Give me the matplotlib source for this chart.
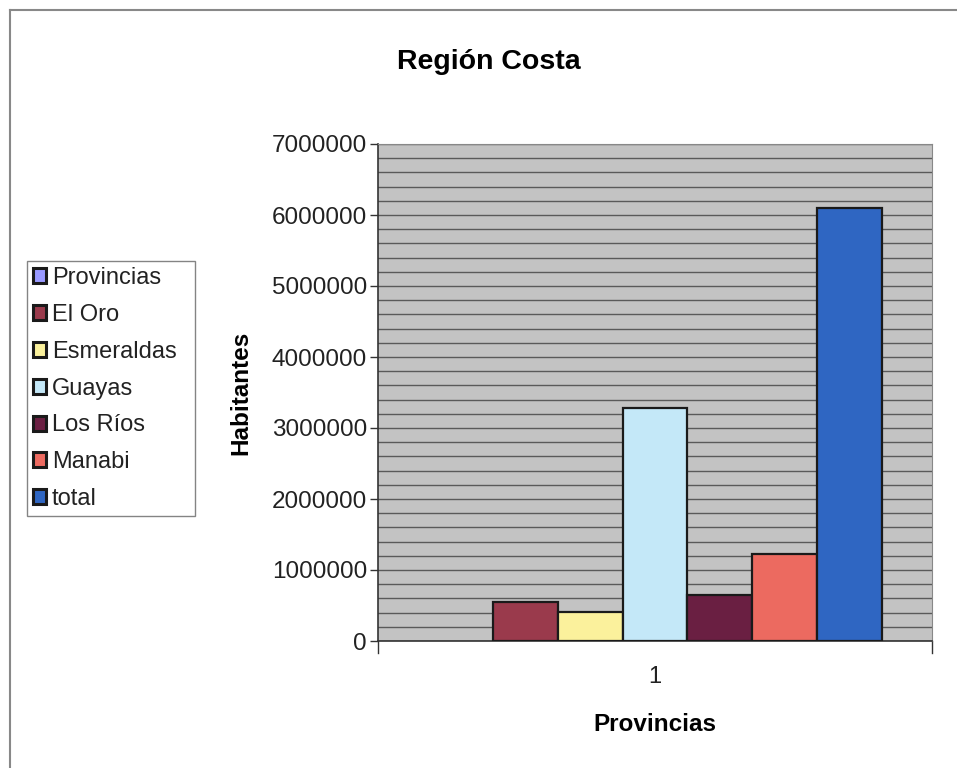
import matplotlib.pyplot as plt
from matplotlib.patches import Patch
from matplotlib.lines import Line2D

plt.rcParams['font.family'] = ['Liberation Sans', 'DejaVu Sans']

# Population by province, Coastal Region
series = ['Provincias', 'El Oro', 'Esmeraldas', 'Guayas', 'Los Ríos', 'Manabi', 'total']
values = [0, 545000, 410000, 3280000, 650000, 1230000, 6100000]
colors = ['#9999ff', '#9a3a4c', '#fbf19c', '#c4e8f8', '#6a1f42', '#ec6a60', '#2f66c2']
category = [1]
yticks = list(range(0, 7000001, 1000000))

fig = plt.figure(figsize=(9.57, 7.68), dpi=100)
fig.patch.set_facecolor('white')
ax = fig.add_axes([378 / 957, 1 - 641 / 768, (932 - 378) / 957, (641 - 144) / 768])
ax.set_facecolor('#c3c3c3')

group = 0.82
w = group / len(series)
for i, (name, v, c) in enumerate(zip(series, values, colors)):
    x = category[0] + (i - (len(series) - 1) / 2) * w
    ax.bar(x, v, width=w, color=c, edgecolor='#1a1a1a',
           linewidth=1.6 if v > 0 else 0, zorder=3)

ax.set_xlim(0.5, 1.5)
ax.set_ylim(0, 7000000)
ax.set_yticks(yticks)
ax.set_yticklabels([str(t) for t in yticks], fontsize=17.5, color='#222222')
ax.set_yticks(range(0, 7000001, 200000), minor=True)
ax.grid(True, axis='y', which='both', color='#5a5a5a', linewidth=1.0, zorder=1)
ax.set_axisbelow(True)
ax.set_xticks(category)
ax.set_xticklabels(['1'], fontsize=17, color='#222222')
ax.tick_params(axis='x', length=0, pad=18)
ax.tick_params(axis='y', which='major', length=6, width=1, color='#333333', pad=2)
ax.tick_params(axis='y', which='minor', length=0)
for s in ['left', 'bottom']:
    ax.spines[s].set_color('#333333')
    ax.spines[s].set_linewidth(1.2)
for s in ['right', 'top']:
    ax.spines[s].set_color('#888888')
    ax.spines[s].set_linewidth(0.8)

# category boundary ticks on the x axis
for xb in (0.5, 1.5):
    ax.plot([xb, xb], [0, -0.025], transform=ax.get_xaxis_transform(), color='#333333',
            linewidth=1, clip_on=False)

ax.set_ylabel('Habitantes', fontsize=17.5, fontweight='bold', labelpad=14)
ax.set_xlabel('Provincias', fontsize=17.5, fontweight='bold', labelpad=18)
fig.text(489 / 957, 1 - 62 / 768, 'Región Costa', fontsize=20.5, fontweight='bold',
         ha='center', va='center')

handles = [Patch(facecolor=c, edgecolor='#1a1a1a', linewidth=2.2) for c in colors]
leg = fig.legend(handles, series, loc='upper left',
                 bbox_to_anchor=(27 / 957, 1 - 521 / 768, (195 - 27) / 957, (521 - 261) / 768),
                 mode='expand', fontsize=17, frameon=True, fancybox=False,
                 edgecolor='#666666', handlelength=0.55, handleheight=0.6,
                 handletextpad=0.25, labelspacing=0.63, borderpad=0.25, borderaxespad=0)
leg.get_frame().set_linewidth(1.0)
for t in leg.get_texts():
    t.set_color('#222222')

# outer chart border (top and left edges visible)
fig.add_artist(Line2D([9.5 / 957, 9.5 / 957], [0, 1 - 9.5 / 768], color='#888888', linewidth=1.5))
fig.add_artist(Line2D([9.5 / 957, 1], [1 - 9.5 / 768, 1 - 9.5 / 768], color='#888888', linewidth=1.5))

fig.savefig('out.png', dpi=100)
